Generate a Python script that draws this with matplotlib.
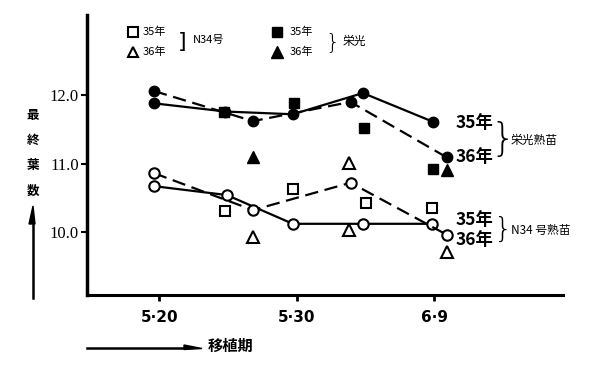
import matplotlib
matplotlib.use("Agg")
import matplotlib.pyplot as plt

plt.rcParams['font.family'] = ['Noto Sans CJK JP', 'DejaVu Sans']

# 移植期 (days after 5/20) and 最終葉数
eiko35_x = [-0.4, 4.8, 9.7, 14.8, 19.9]
eiko35_y = [11.88, 11.76, 11.72, 12.03, 11.61]
eiko36_x = [-0.4, 6.8, 13.9, 20.9]
eiko36_y = [12.06, 11.62, 11.90, 11.09]
n34_35_x = [-0.4, 4.9, 9.7, 14.8, 19.8]
n34_35_y = [10.67, 10.54, 10.12, 10.12, 10.12]
n34_36_x = [-0.4, 6.8, 13.9, 20.9]
n34_36_y = [10.86, 10.32, 10.72, 9.96]

# single points (squares = 35年, triangles = 36年)
eiko_sq_x = [4.7, 9.8, 14.9, 19.9]
eiko_sq_y = [11.75, 11.88, 11.52, 10.92]
eiko_tri_x = [6.8, 20.9]
eiko_tri_y = [11.09, 10.91]
n34_sq_x = [4.8, 9.7, 15.0, 19.8]
n34_sq_y = [10.31, 10.63, 10.42, 10.35]
n34_tri_x = [6.8, 13.8, 13.8, 20.9]
n34_tri_y = [9.93, 11.01, 10.03, 9.71]

xticks = [0, 10, 20]
xticklabels = ['5·20', '5·30', '6·9']
yticks = [10.0, 11.0, 12.0]
yticklabels = ['10.0', '11.0', '12.0']

W, H = 606, 368
fig = plt.figure(figsize=(W / 100, H / 100), dpi=100)
ax = fig.add_axes([87 / W, (H - 295) / H, 476 / W, 280 / H])

k = 'black'
ax.plot(eiko35_x, eiko35_y, '-', color=k, lw=1.6, marker='o', ms=7.5, mfc=k, zorder=3)
ax.plot(eiko36_x, eiko36_y, '--', color=k, lw=1.6, dashes=(6, 3), marker='o', ms=7.5, mfc=k, zorder=3)
ax.plot(n34_35_x, n34_35_y, '-', color=k, lw=1.6, marker='o', ms=7.5, mfc='white', mew=1.5, zorder=3)
ax.plot(n34_36_x, n34_36_y, '--', color=k, lw=1.6, dashes=(6, 3), marker='o', ms=7.5, mfc='white', mew=1.5, zorder=3)

ax.plot(eiko_sq_x, eiko_sq_y, 's', color=k, ms=7, zorder=4)
ax.plot(eiko_tri_x, eiko_tri_y, '^', color=k, ms=8, zorder=4)
ax.plot(n34_sq_x, n34_sq_y, 's', color=k, mfc='white', mew=1.5, ms=6.5, zorder=4)
ax.plot(n34_tri_x, n34_tri_y, '^', color=k, mfc='white', mew=1.5, ms=8, zorder=4)

ax.set_xlim(-5.27, 29.35)
ax.set_ylim(9.08, 13.17)
ax.set_xticks(xticks)
ax.set_xticklabels(xticklabels, fontsize=11, fontweight='bold', family='DejaVu Sans')
ax.set_yticks(yticks)
ax.set_yticklabels(yticklabels, fontsize=12, family='Liberation Serif')
ax.tick_params(axis='x', length=4, width=2, pad=7)
ax.tick_params(axis='y', length=4, width=1.5, pad=2)
for s in ['top', 'right']:
    ax.spines[s].set_visible(False)
ax.spines['left'].set_linewidth(2.5)
ax.spines['bottom'].set_linewidth(2.2)

# legend
ta = ax.transAxes
ax.plot([0.097], [0.939], 's', transform=ta, color=k, mfc='white', mew=1.5, ms=6.5, clip_on=False)
ax.plot([0.097], [0.868], '^', transform=ta, color=k, mfc='white', mew=1.5, ms=7.5, clip_on=False)
ax.plot([0.399], [0.939], 's', transform=ta, color=k, ms=7, clip_on=False)
ax.plot([0.399], [0.868], '^', transform=ta, color=k, ms=8, clip_on=False)
for x0 in [0.117, 0.426]:
    ax.text(x0, 0.939, '35年', transform=ta, fontsize=8, va='center')
    ax.text(x0, 0.868, '36年', transform=ta, fontsize=8, va='center')
ax.text(0.199, 0.905, ']', transform=ta, fontsize=16, ha='center', va='center', family='DejaVu Sans')
ax.text(0.222, 0.912, 'N34号', transform=ta, fontsize=8, va='center')
ax.text(0.516, 0.905, '}', transform=ta, fontsize=16, ha='center', va='center', family='DejaVu Sans',
        fontweight='light')
ax.text(0.538, 0.905, '栄光', transform=ta, fontsize=8.5, va='center')

# right labels
for y0, lab in [(0.614, '35年'), (0.493, '36年'), (0.268, '35年'), (0.196, '36年')]:
    ax.text(0.774, y0, lab, transform=ta, fontsize=12.5, fontweight='bold', va='center')
ax.text(0.873, 0.553, '}', transform=ta, fontsize=28, ha='center', va='center', family='DejaVu Sans',
        fontweight='light')
ax.text(0.891, 0.553, '栄光熟苗', transform=ta, fontsize=8.5, va='center')
ax.text(0.873, 0.231, '}', transform=ta, fontsize=21, ha='center', va='center', family='DejaVu Sans',
        fontweight='light')
ax.text(0.891, 0.231, 'N34 号熟苗', transform=ta, fontsize=8.5, va='center')

# y label, vertical characters with arrow
for ch, py in zip('最終葉数', [115, 140, 165, 191]):
    fig.text(33 / W, 1 - py / H, ch, fontsize=9, fontweight='bold', ha='center', va='center')
fig.add_artist(plt.Line2D([33 / W, 33 / W], [1 - 298 / H, 1 - 222 / H], color=k, lw=1.8))
fig.patches.append(plt.Polygon([[33 / W, 1 - 206 / H], [29 / W, 1 - 224 / H], [35 / W, 1 - 224 / H]],
                               closed=True, color=k, transform=fig.transFigure))

# x label with arrow
fig.add_artist(plt.Line2D([87 / W, 186 / W], [1 - 348 / H, 1 - 348 / H], color=k, lw=1.8))
fig.patches.append(plt.Polygon([[202 / W, 1 - 348.5 / H], [184 / W, 1 - 345 / H], [184 / W, 1 - 349.5 / H]],
                               closed=True, color=k, transform=fig.transFigure))
fig.text(208 / W, 1 - 346 / H, '移植期', fontsize=11, fontweight='bold', ha='left', va='center')

fig.savefig('out.png', dpi=100)
